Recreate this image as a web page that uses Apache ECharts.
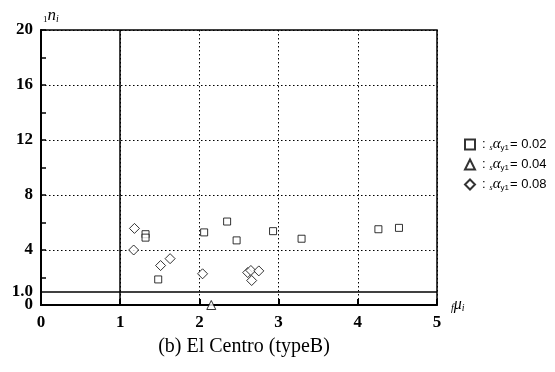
<!DOCTYPE html>
<html>
<head>
<meta charset="utf-8">
<script src="https://cdn.jsdelivr.net/npm/echarts@6/dist/echarts.min.js"></script>
<style>
  html, body { margin: 0; padding: 0; background: #fff; }
  #chart { width: 555px; height: 372px; }
</style>
</head>
<body>
<div id="chart"></div>
<script>
const squareX = [1.32, 1.32, 1.48, 2.06, 2.35, 2.47, 2.93, 3.29, 4.26, 4.52]
const squareY = [5.15, 4.9, 1.86, 5.28, 6.07, 4.70, 5.37, 4.82, 5.51, 5.61]
const triangleX = [2.15]
const triangleY = [0]
const diamondX = [1.18, 1.17, 1.51, 1.63, 2.04, 2.61, 2.65, 2.75, 2.66]
const diamondY = [5.57, 4.0, 2.87, 3.37, 2.27, 2.36, 2.51, 2.48, 1.78]
const alphaValues = ["0.02", "0.04", "0.08"]
const seriesNames = ["a002", "a004", "a008"]

const zip = (xs, ys) => xs.map((x, i) => [x, ys[i]])

const serif = "Liberation Serif"
const hollow = { color: "#fff", borderColor: "#000", borderWidth: 1 }

const chart = echarts.init(document.getElementById("chart"), null, { renderer: "canvas" })

chart.setOption({
  animation: false,
  backgroundColor: "#fff",
  title: {
    text: "(b) El Centro (typeB)",
    left: 239,
    top: 332,
    textAlign: "center",
    textStyle: { fontFamily: serif, fontSize: 20, fontWeight: "normal", color: "#000" },
  },
  grid: {
    left: 41, right: 118, top: 30, bottom: 67,
    show: true, borderColor: "#000", borderWidth: 1.5, backgroundColor: "transparent",
  },
  legend: {
    orient: "vertical",
    left: 459,
    top: 132,
    itemGap: 5,
    itemWidth: 10,
    itemHeight: 10,
    data: [
      { name: seriesNames[0], icon: "rect" },
      { name: seriesNames[1], icon: "triangle" },
      { name: seriesNames[2], icon: "diamond" },
    ],
    formatter: name => {
      const v = alphaValues[seriesNames.indexOf(name)]
      return "{c|:}{s|s}{a|α}{y|y1}{v|= " + v + "}"
    },
    textStyle: {
      color: "#000",
      fontFamily: "Liberation Sans",
      fontSize: 13,
      lineHeight: 14,
      rich: {
        c: { fontSize: 13, lineHeight: 14, fontFamily: "Liberation Sans", padding: [0, 4, 0, 2] },
        s: { fontSize: 8, lineHeight: 14, fontFamily: serif, fontStyle: "italic", verticalAlign: "bottom" },
        a: { fontSize: 15, lineHeight: 14, fontFamily: serif, fontStyle: "italic" },
        y: { fontSize: 8, lineHeight: 14, fontFamily: "Liberation Sans", verticalAlign: "bottom", padding: [0, 1, 0, 0] },
        v: { fontSize: 13, lineHeight: 14, fontFamily: "Liberation Sans" },
      },
    },
  },
  xAxis: {
    type: "value",
    min: 0, max: 5, interval: 1,
    name: "{p|f}{n|μ}{i|i}",
    nameLocation: "end",
    nameGap: 14,
    nameTextStyle: {
      rich: {
        p: { fontSize: 10, fontStyle: "italic", fontFamily: serif, verticalAlign: "bottom", padding: [5, 0, 0, 0] },
        n: { fontSize: 16, fontStyle: "italic", fontFamily: serif },
        i: { fontSize: 10, fontStyle: "italic", fontFamily: serif, verticalAlign: "bottom", padding: [5, 0, 0, 0] },
      },
    },
    axisLine: { show: true, onZero: false, lineStyle: { color: "#000", width: 2 } },
    axisTick: { show: true, inside: true, length: 6, lineStyle: { color: "#000", width: 2 } },
    axisLabel: { color: "#000", fontFamily: serif, fontWeight: "bold", fontSize: 17, margin: 9 },
    splitLine: { show: true, lineStyle: { color: "#000", type: [1.5, 2.5], width: 1 } },
  },
  yAxis: [
    {
      type: "value",
      min: 0, max: 20, interval: 4,
      name: "{p|1}{n|n}{i|i}",
      nameLocation: "end",
      nameGap: 6,
      nameTextStyle: {
        align: "left",
        padding: [0, 0, 0, 2],
        rich: {
          p: { fontSize: 9, fontFamily: serif, verticalAlign: "bottom", padding: [5, 0, 0, 0] },
          n: { fontSize: 17, fontStyle: "italic", fontFamily: serif },
          i: { fontSize: 10, fontStyle: "italic", fontFamily: serif, verticalAlign: "bottom", padding: [5, 0, 0, 0] },
        },
      },
      axisLine: { show: true, onZero: false, lineStyle: { color: "#000", width: 2 } },
      axisTick: { show: false },
      axisLabel: { color: "#000", fontFamily: serif, fontWeight: "bold", fontSize: 17, margin: 8 },
      splitLine: { show: true, lineStyle: { color: "#000", type: [1.5, 2.5], width: 1 } },
    },
    {
      type: "value",
      position: "left",
      min: 0, max: 20, interval: 2,
      axisLine: { show: false },
      axisTick: { show: true, inside: true, length: 5, lineStyle: { color: "#000", width: 1.5 } },
      axisLabel: { show: false },
      splitLine: { show: false },
    },
  ],
  series: [
    {
      name: seriesNames[0],
      type: "scatter",
      symbol: "rect",
      symbolSize: 7,
      itemStyle: hollow,
      data: zip(squareX, squareY),
      markLine: {
        silent: true,
        symbol: "none",
        lineStyle: { color: "#000", width: 1.5, type: "solid" },
        data: [
          { xAxis: 1, label: { show: false } },
          {
            yAxis: 1,
            label: {
              show: true, position: "start", formatter: "1.0", distance: 8,
              color: "#000", fontFamily: serif, fontWeight: "bold", fontSize: 17,
            },
          },
        ],
      },
      z: 5,
    },
    {
      name: seriesNames[1],
      type: "scatter",
      symbol: "triangle",
      symbolSize: 9,
      itemStyle: hollow,
      data: zip(triangleX, triangleY),
      z: 5,
    },
    {
      name: seriesNames[2],
      type: "scatter",
      symbol: "diamond",
      symbolSize: [10, 10],
      itemStyle: hollow,
      data: zip(diamondX, diamondY),
      z: 5,
    },
  ],
})
</script>
</body>
</html>
